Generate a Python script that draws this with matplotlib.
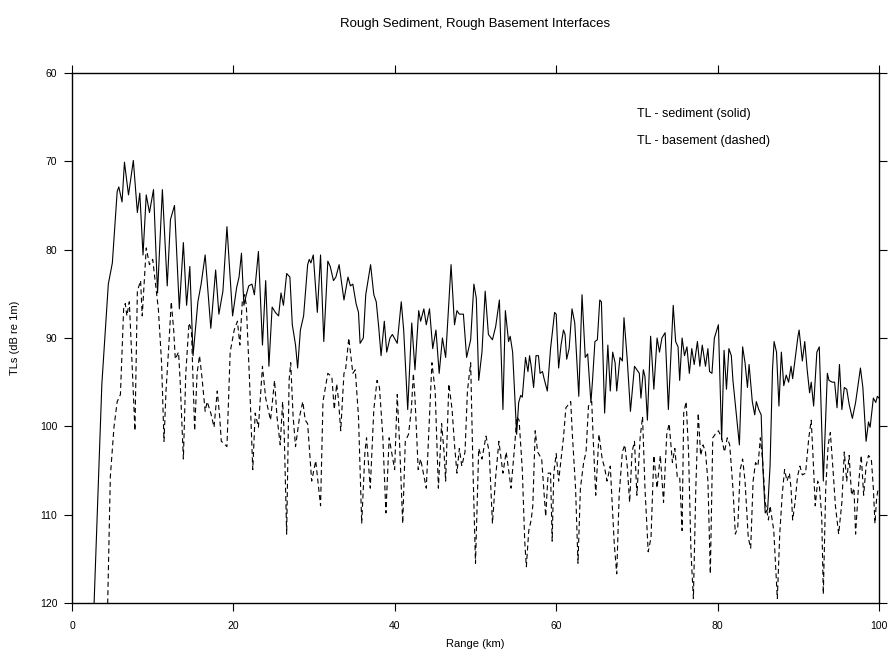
import matplotlib
matplotlib.use("Agg")
import matplotlib.pyplot as plt

plt.rcParams['font.family'] = ['Liberation Sans', 'DejaVu Sans']

# TL along range, interface with sediment (solid)
sed_km = [2.7, 3.7, 4.5, 5.0, 5.6, 5.8, 6.2, 6.5, 7.0, 7.6, 8.1, 8.4, 8.8, 9.2, 9.6, 10.1,
          10.6, 11.2, 11.8, 12.2, 12.7, 13.3, 13.8, 14.2, 14.6, 15.0, 15.6, 16.0, 16.5, 17.2,
          17.8, 18.2, 18.7, 19.2, 19.9, 20.4, 20.7, 21.0, 21.3, 21.6, 21.9, 22.3, 22.6, 23.1,
          23.6, 24.0, 24.4, 24.8, 25.2, 25.6, 25.9, 26.2, 26.6, 27.0, 27.3, 27.7, 27.96, 28.3,
          28.7, 29.2, 29.4, 29.6, 29.9, 30.4, 30.8, 31.2, 31.7, 32.0, 32.4, 32.7, 33.1, 33.7,
          34.2, 34.5, 34.8, 35.2, 35.5, 35.7, 36.1, 36.4, 37.0, 37.4, 37.7, 38.0, 38.3, 38.7,
          39.0, 39.4, 39.7, 40.3, 40.8, 41.1, 41.6, 42.1, 42.5, 42.96, 43.2, 43.6, 43.9, 44.3,
          44.7, 45.1, 45.5, 45.9, 46.3, 46.97, 47.4, 47.7, 48.0, 48.5, 48.9, 49.4, 49.8, 50.1,
          50.4, 50.8, 51.2, 51.6, 52.1, 52.5, 52.96, 53.4, 53.7, 54.1, 54.3, 54.6, 55.1, 55.35,
          55.6, 55.8, 56.2, 56.5, 56.7, 56.9, 57.2, 57.5, 57.8, 58.0, 58.3, 58.5, 58.9, 59.3,
          59.8, 60.0, 60.3, 60.6, 60.9, 61.1, 61.3, 61.6, 61.96, 62.3, 62.8, 63.2, 63.6, 63.9,
          64.3, 64.5, 64.8, 65.1, 65.4, 65.6, 66.0, 66.4, 66.7, 67.0, 67.3, 67.5, 67.9, 68.2,
          68.4, 68.8, 69.2, 69.7, 70.0, 70.3, 70.5, 70.8, 71.0, 71.3, 71.7, 72.1, 72.5, 72.8,
          73.1, 73.5, 73.9, 74.5, 74.8, 75.1, 75.3, 75.6, 75.9, 76.2, 76.5, 76.8, 77.1, 77.5,
          77.8, 78.1, 78.5, 78.8, 79.0, 79.3, 79.6, 80.1, 80.5, 80.8, 81.1, 81.4, 81.7, 81.9,
          82.2, 82.7, 83.1, 83.4, 83.7, 83.9, 84.3, 84.6, 84.8, 85.1, 85.4, 85.6, 85.9, 86.2,
          86.5, 86.8, 87.0, 87.3, 87.6, 87.9, 88.2, 88.5, 88.8, 89.1, 89.3, 89.6, 89.96, 90.1,
          90.5, 90.8, 91.1, 91.4, 91.6, 91.9, 92.3, 92.6, 93.1, 93.6, 93.8, 94.2, 94.5, 94.8,
          95.1, 95.4, 95.7, 96.0, 96.3, 96.7, 97.1, 97.3, 97.7, 98.0, 98.4, 98.7, 98.9, 99.3,
          99.6, 99.8, 100.0]
sed_tl = [121.0, 95.2, 83.9, 81.5, 73.4, 72.9, 74.6, 70.1, 73.8, 69.9, 75.8, 73.6, 80.6, 73.8, 75.8, 73.2,
          84.9, 73.2, 84.1, 76.6, 75.0, 86.7, 79.2, 86.3, 81.9, 92.0, 85.9, 83.9, 80.6, 88.9,
          82.3, 87.3, 84.7, 77.4, 87.5, 84.3, 83.1, 80.4, 86.3, 85.1, 84.1, 83.9, 85.1, 80.2,
          90.8, 83.5, 93.2, 86.5, 87.1, 87.5, 84.9, 86.3, 82.7, 83.1, 88.5, 90.8, 93.4, 89.1,
          87.5, 81.7, 81.1, 81.5, 80.6, 87.1, 80.6, 90.4, 81.3, 81.9, 83.5, 83.1, 81.7, 85.7,
          83.1, 84.1, 83.9, 86.1, 87.1, 90.6, 90.0, 85.1, 81.7, 85.1, 85.9, 88.7, 92.0, 88.1,
          91.6, 90.0, 89.6, 90.6, 85.9, 89.1, 98.1, 88.3, 93.6, 86.9, 88.1, 86.7, 88.5, 86.7,
          91.2, 89.1, 94.0, 90.0, 92.2, 81.7, 88.5, 86.9, 87.3, 87.3, 92.2, 90.2, 83.9, 85.5,
          94.8, 91.6, 84.7, 89.6, 90.2, 88.7, 85.7, 98.1, 86.9, 90.4, 89.8, 91.6, 100.9, 97.3,
          96.5, 96.7, 92.2, 93.8, 92.0, 93.2, 95.6, 92.0, 92.0, 94.0, 93.8, 94.6, 96.0, 91.2,
          87.1, 87.3, 93.4, 90.8, 89.1, 89.6, 92.4, 91.2, 86.7, 88.3, 96.6, 85.1, 92.2, 91.8,
          97.3, 94.8, 90.4, 90.2, 85.7, 85.9, 98.5, 90.8, 96.0, 91.6, 92.8, 96.0, 92.2, 92.6,
          87.7, 92.4, 98.3, 93.2, 93.6, 94.0, 96.8, 93.6, 94.4, 99.3, 89.8, 95.8, 90.0, 91.6,
          90.0, 89.4, 98.1, 86.3, 90.4, 91.0, 94.8, 90.0, 92.0, 91.0, 94.0, 91.2, 93.0, 90.4,
          93.2, 90.8, 93.2, 91.2, 93.8, 94.0, 90.0, 88.5, 101.5, 91.4, 95.8, 91.2, 92.0, 94.8,
          97.5, 102.1, 91.0, 92.8, 95.6, 93.0, 97.2, 98.7, 97.2, 98.1, 98.7, 104.5, 109.8, 109.4,
          104.5, 93.6, 90.4, 91.6, 97.7, 91.6, 95.4, 94.2, 95.0, 93.2, 94.6, 92.4, 89.8, 89.1,
          92.6, 90.4, 93.6, 96.2, 95.0, 97.7, 91.6, 91.0, 106.2, 94.0, 94.8, 95.0, 95.0, 97.9,
          93.0, 98.1, 95.6, 95.8, 97.5, 99.1, 97.3, 96.0, 93.4, 95.6, 101.7, 99.5, 100.1, 96.8,
          97.3, 96.6, 96.8]

# TL along range, interface with basement (dashed)
bas_km = [4.4, 4.75, 5.2, 5.6, 6.0, 6.4, 6.6, 6.8, 7.1, 7.4, 7.8, 8.1, 8.5, 8.7, 9.2, 9.6,
          10.0, 10.3, 10.7, 11.1, 11.4, 11.65, 12.0, 12.3, 12.6, 12.8, 13.2, 13.4, 13.8, 14.1,
          14.5, 14.8, 15.2, 15.5, 15.8, 16.1, 16.5, 16.75, 17.2, 17.6, 18.0, 18.3, 18.5, 18.8,
          19.2, 19.6, 20.1, 20.5, 20.8, 21.1, 21.4, 21.6, 22.0, 22.4, 22.7, 23.1, 23.6, 24.0,
          24.6, 25.1, 25.4, 25.8, 26.1, 26.3, 26.6, 26.9, 27.1, 27.4, 27.7, 28.2, 28.6, 28.9,
          29.2, 29.7, 30.2, 30.8, 31.1, 31.4, 31.7, 32.2, 32.5, 32.8, 33.0, 33.3, 33.7, 33.9,
          34.3, 34.5, 34.8, 35.1, 35.5, 35.9, 36.3, 36.5, 36.96, 37.4, 37.8, 38.1, 38.5, 38.9,
          39.3, 39.6, 39.98, 40.3, 40.6, 40.98, 41.3, 41.7, 42.05, 42.3, 42.5, 42.9, 43.2, 43.9,
          44.2, 44.6, 45.0, 45.4, 45.8, 46.1, 46.3, 46.7, 47.1, 47.4, 47.7, 48.0, 48.3, 48.7,
          49.0, 49.4, 49.7, 50.0, 50.4, 50.8, 51.3, 51.7, 52.1, 52.5, 52.9, 53.4, 53.8, 54.1,
          54.4, 54.9, 55.1, 55.4, 55.8, 56.1, 56.3, 56.6, 56.9, 57.1, 57.4, 57.7, 58.2, 58.7,
          59.0, 59.3, 59.5, 59.7, 60.0, 60.3, 60.6, 60.9, 61.2, 61.8, 62.0, 62.4, 62.7, 63.0,
          63.4, 63.7, 64.0, 64.4, 64.6, 64.9, 65.3, 65.7, 66.0, 66.3, 66.7, 67.2, 67.5, 67.8,
          68.2, 68.5, 68.8, 69.1, 69.4, 69.7, 70.0, 70.4, 70.7, 71.0, 71.4, 71.75, 72.1, 72.5,
          72.9, 73.3, 73.7, 74.0, 74.4, 74.7, 75.0, 75.3, 75.6, 75.8, 76.1, 76.4, 76.7, 77.0,
          77.3, 77.6, 77.9, 78.2, 78.5, 78.8, 79.1, 79.4, 79.7, 80.1, 80.5, 80.85, 81.2, 81.5,
          81.9, 82.2, 82.5, 82.8, 83.1, 83.4, 83.8, 84.1, 84.4, 84.7, 85.0, 85.3, 85.6, 85.9,
          86.3, 86.5, 86.96, 87.4, 87.7, 88.0, 88.3, 88.6, 88.9, 89.1, 89.3, 89.6, 89.9, 90.2,
          90.5, 90.9, 91.3, 91.6, 91.8, 92.1, 92.4, 92.6, 92.9, 93.1, 93.4, 93.7, 93.97, 94.3,
          94.6, 95.0, 95.4, 95.7, 96.0, 96.3, 96.6, 96.9, 97.1, 97.5, 97.8, 98.1, 98.4, 98.7,
          99.05, 99.3, 99.5, 99.7, 99.9]
bas_tl = [121.0, 105.7, 100.1, 97.2, 96.4, 86.7, 86.1, 87.5, 85.9, 92.0, 100.5, 84.7, 83.5, 87.5, 79.8, 81.7,
          81.1, 83.5, 86.7, 92.8, 101.7, 96.0, 90.8, 85.9, 89.1, 92.4, 91.6, 94.8, 103.7, 94.0,
          88.3, 89.1, 100.5, 94.0, 92.0, 94.4, 98.3, 97.2, 98.5, 100.1, 96.0, 98.9, 101.7, 101.9,
          102.3, 91.6, 89.1, 88.1, 90.8, 85.9, 85.1, 86.3, 94.8, 104.9, 98.5, 100.1, 93.2, 96.8,
          99.3, 94.8, 98.9, 102.1, 97.2, 100.9, 112.2, 94.8, 92.8, 98.9, 102.3, 98.9, 97.2, 99.3,
          99.7, 106.2, 103.9, 109.0, 97.2, 95.6, 94.0, 94.4, 98.1, 95.2, 96.8, 100.5, 94.0, 93.6,
          90.0, 91.6, 94.0, 93.6, 98.9, 111.0, 102.9, 101.3, 107.0, 98.1, 94.8, 95.6, 100.9, 109.8,
          101.3, 102.9, 104.9, 96.4, 102.1, 111.0, 101.7, 100.9, 98.1, 94.0, 96.8, 104.9, 103.7, 107.0,
          100.9, 92.8, 96.0, 107.0, 99.7, 102.9, 106.2, 95.2, 98.1, 102.1, 105.3, 102.5, 104.5, 102.9,
          96.0, 92.8, 105.3, 115.5, 102.5, 103.7, 101.1, 102.9, 111.0, 105.7, 101.7, 105.3, 102.9, 104.9,
          107.0, 101.7, 98.9, 99.3, 104.9, 113.0, 115.9, 111.8, 110.6, 109.0, 100.5, 102.9, 103.7, 110.2,
          105.3, 105.3, 113.0, 105.3, 103.1, 106.2, 103.7, 101.3, 97.9, 97.2, 100.9, 107.0, 115.5, 107.0,
          104.1, 102.9, 97.7, 97.2, 101.7, 107.8, 100.9, 103.7, 104.7, 106.2, 104.5, 113.4, 116.7, 107.8,
          102.9, 102.1, 104.5, 108.6, 102.9, 101.7, 107.8, 101.3, 98.9, 107.0, 114.2, 112.6, 103.3, 107.0,
          103.3, 108.6, 100.9, 99.7, 104.1, 102.5, 105.7, 105.7, 111.8, 98.5, 97.2, 102.9, 114.2, 119.5,
          107.0, 98.5, 103.3, 102.1, 102.9, 106.2, 116.7, 101.3, 100.9, 100.5, 101.3, 102.9, 101.3, 102.1,
          107.0, 112.2, 111.4, 104.9, 103.7, 106.2, 112.6, 113.8, 106.2, 104.1, 104.5, 101.3, 104.1, 108.6,
          110.6, 109.0, 111.8, 119.5, 112.2, 107.8, 104.9, 106.2, 105.3, 107.0, 110.6, 108.6, 105.7, 104.5,
          105.5, 105.3, 101.3, 99.3, 102.9, 109.0, 106.2, 106.6, 110.2, 119.0, 107.0, 102.1, 100.7, 104.9,
          109.0, 112.2, 108.6, 102.9, 106.2, 103.3, 107.8, 107.0, 112.2, 106.2, 103.3, 107.8, 104.5, 103.3,
          103.7, 107.0, 111.0, 108.2, 107.0]

x_ticks = [0, 20, 40, 60, 80, 100]
y_ticks = [60, 70, 80, 90, 100, 110, 120]

fig = plt.figure(figsize=(8.91, 6.55), dpi=100)
ax = fig.add_axes([72 / 891, 1 - 603 / 655, 807 / 891, 530 / 655])

ax.plot(sed_km, sed_tl, color='black', linewidth=0.8)
ax.plot(bas_km, bas_tl, color='black', linewidth=0.8, linestyle=(0, (4.5, 3)))

ax.set_xlim(0, 100)
ax.set_ylim(120, 60)
ax.set_xticks(x_ticks)
ax.set_yticks(y_ticks)
ax.tick_params(direction='out', length=6, width=0.8, labelsize=7.5,
               top=True, right=True, labeltop=False, labelright=False)
ax.tick_params(axis='y', pad=4.5)
ax.tick_params(axis='x', pad=7)
for s in ax.spines.values():
    s.set_linewidth(1.0)

ax.set_xlabel('Range (km)', fontsize=8, labelpad=6)
ax.set_ylabel('TLs (dB re 1m)', fontsize=8, labelpad=14)
ax.set_title('Rough Sediment, Rough Basement Interfaces', fontsize=9.5, pad=33)

ax.text(0.700, 0.923, 'TL - sediment (solid)', transform=ax.transAxes, fontsize=9, va='center')
ax.text(0.700, 0.872, 'TL - basement (dashed)', transform=ax.transAxes, fontsize=9, va='center')

fig.savefig('out.png', dpi=100)
